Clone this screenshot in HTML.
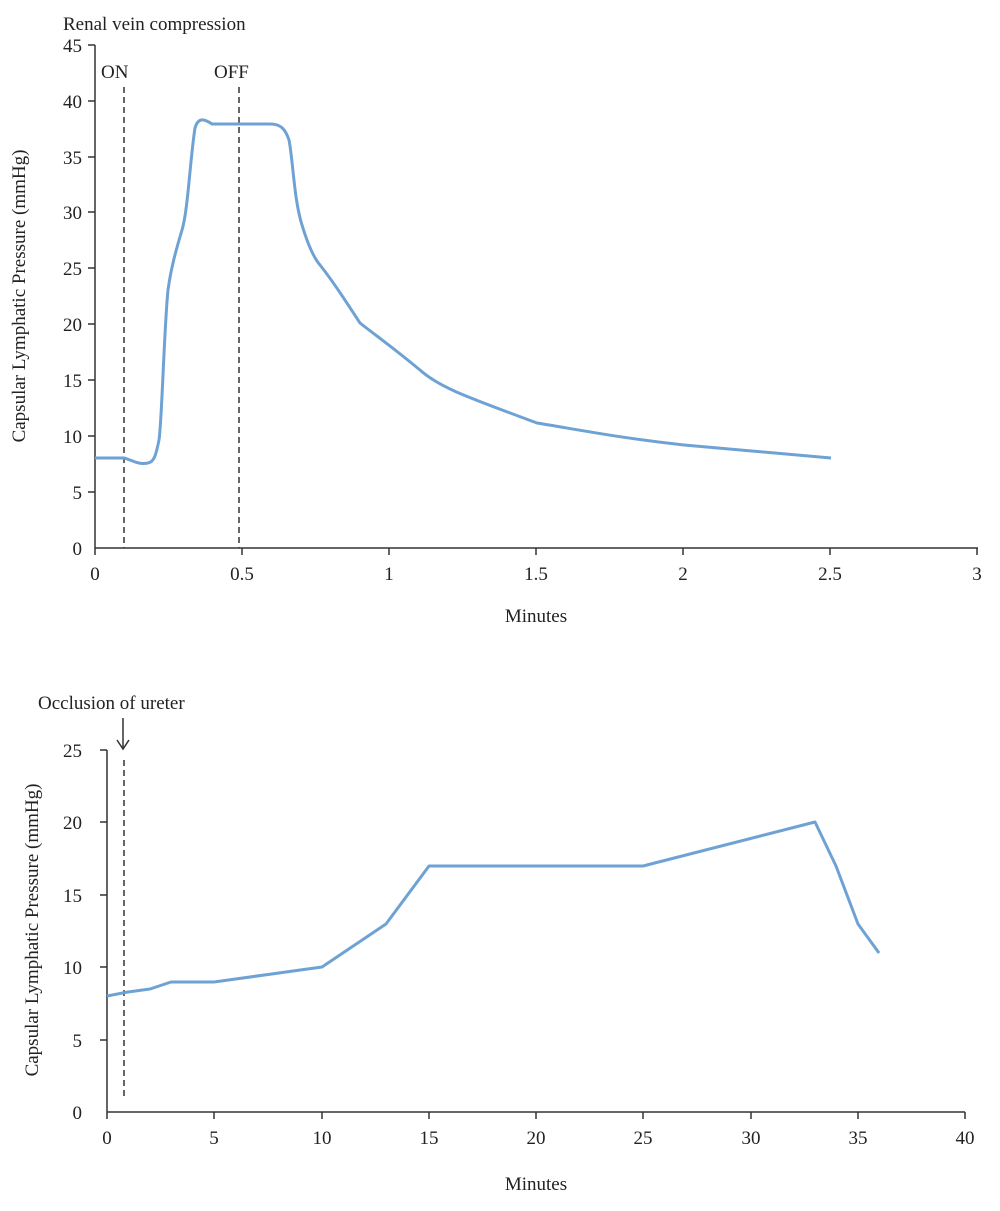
<!DOCTYPE html>
<html><head><style>body{margin:0;background:#fff}</style></head><body>
<svg width="1000" height="1206" xmlns="http://www.w3.org/2000/svg" font-family="Liberation Serif, serif" font-size="19" fill="#222">
<!-- Top chart -->
<text x="63" y="30" font-size="19">Renal vein compression</text>
<g stroke="#333" stroke-width="1.5">
<line x1="95" y1="45" x2="95" y2="548"/>
<line x1="95" y1="548" x2="978" y2="548"/>
<line x1="88" y1="45" x2="95" y2="45"/><line x1="88" y1="101" x2="95" y2="101"/><line x1="88" y1="157" x2="95" y2="157"/><line x1="88" y1="212" x2="95" y2="212"/><line x1="88" y1="268" x2="95" y2="268"/><line x1="88" y1="324" x2="95" y2="324"/><line x1="88" y1="380" x2="95" y2="380"/><line x1="88" y1="436" x2="95" y2="436"/><line x1="88" y1="492" x2="95" y2="492"/>
<line x1="95" y1="548" x2="95" y2="555"/><line x1="242" y1="548" x2="242" y2="555"/><line x1="389" y1="548" x2="389" y2="555"/><line x1="536" y1="548" x2="536" y2="555"/><line x1="683" y1="548" x2="683" y2="555"/><line x1="830" y1="548" x2="830" y2="555"/><line x1="977" y1="548" x2="977" y2="555"/>
</g>
<g stroke="#333" stroke-width="1.5" stroke-dasharray="6,4">
<line x1="124" y1="87" x2="124" y2="548"/><line x1="239" y1="87" x2="239" y2="548"/>
</g>
<text x="101" y="78">ON</text><text x="214" y="78">OFF</text>
<g text-anchor="end"><text x="82" y="52">45</text><text x="82" y="108">40</text><text x="82" y="164">35</text><text x="82" y="219">30</text><text x="82" y="275">25</text><text x="82" y="331">20</text><text x="82" y="387">15</text><text x="82" y="443">10</text><text x="82" y="499">5</text><text x="82" y="555">0</text></g>
<g text-anchor="middle"><text x="95" y="580">0</text><text x="242" y="580">0.5</text><text x="389" y="580">1</text><text x="536" y="580">1.5</text><text x="683" y="580">2</text><text x="830" y="580">2.5</text><text x="977" y="580">3</text>
<text x="536" y="622">Minutes</text>
<text transform="translate(25,296) rotate(-90)">Capsular Lymphatic Pressure (mmHg)</text></g>
<path fill="none" stroke="#6fa2d4" stroke-width="3" stroke-linejoin="round" d="M95,458 L124,458 C132,460 138,465 148,463 C154,462 156,455 159,440 C162,420 164,330 168,290 C171,268 176,250 182,230 C188,210 190,160 195,128 C198,118 203,118 212,124 L270,124 C280,124 285,128 289,140 C293,160 294,200 302,225 C308,245 314,258 320,265 C332,280 345,300 360,323 C375,335 390,345 420,370 C440,388 470,398 537,423 C580,430 620,438 684,445 C740,450 790,454 831,458"/>
<!-- Bottom chart -->
<text x="38" y="709">Occlusion of ureter</text>
<g stroke="#333" stroke-width="1.5">
<line x1="123" y1="718" x2="123" y2="748"/><polyline points="117,740 123,749 129,740" fill="none"/>
<line x1="107" y1="750" x2="107" y2="1112"/>
<line x1="107" y1="1112" x2="965" y2="1112"/>
<line x1="100" y1="750" x2="107" y2="750"/><line x1="100" y1="822" x2="107" y2="822"/><line x1="100" y1="895" x2="107" y2="895"/><line x1="100" y1="967" x2="107" y2="967"/><line x1="100" y1="1040" x2="107" y2="1040"/>
<line x1="107" y1="1112" x2="107" y2="1119"/><line x1="214" y1="1112" x2="214" y2="1119"/><line x1="322" y1="1112" x2="322" y2="1119"/><line x1="429" y1="1112" x2="429" y2="1119"/><line x1="536" y1="1112" x2="536" y2="1119"/><line x1="643" y1="1112" x2="643" y2="1119"/><line x1="751" y1="1112" x2="751" y2="1119"/><line x1="858" y1="1112" x2="858" y2="1119"/><line x1="965" y1="1112" x2="965" y2="1119"/>
</g>
<line x1="124" y1="760" x2="124" y2="1100" stroke="#333" stroke-width="1.5" stroke-dasharray="6,4"/>
<g text-anchor="end"><text x="82" y="757">25</text><text x="82" y="829">20</text><text x="82" y="902">15</text><text x="82" y="974">10</text><text x="82" y="1047">5</text><text x="82" y="1119">0</text></g>
<g text-anchor="middle"><text x="107" y="1144">0</text><text x="214" y="1144">5</text><text x="322" y="1144">10</text><text x="429" y="1144">15</text><text x="536" y="1144">20</text><text x="643" y="1144">25</text><text x="751" y="1144">30</text><text x="858" y="1144">35</text><text x="965" y="1144">40</text>
<text x="536" y="1190">Minutes</text>
<text transform="translate(38,930) rotate(-90)">Capsular Lymphatic Pressure (mmHg)</text></g>
<polyline fill="none" stroke="#6fa2d4" stroke-width="3" stroke-linejoin="round" points="107,996 128,992 150,989 171,982 214,982 322,967 386,924 429,866 643,866 815,822 836,866 858,924 879,953"/>
</svg>
</body></html>
